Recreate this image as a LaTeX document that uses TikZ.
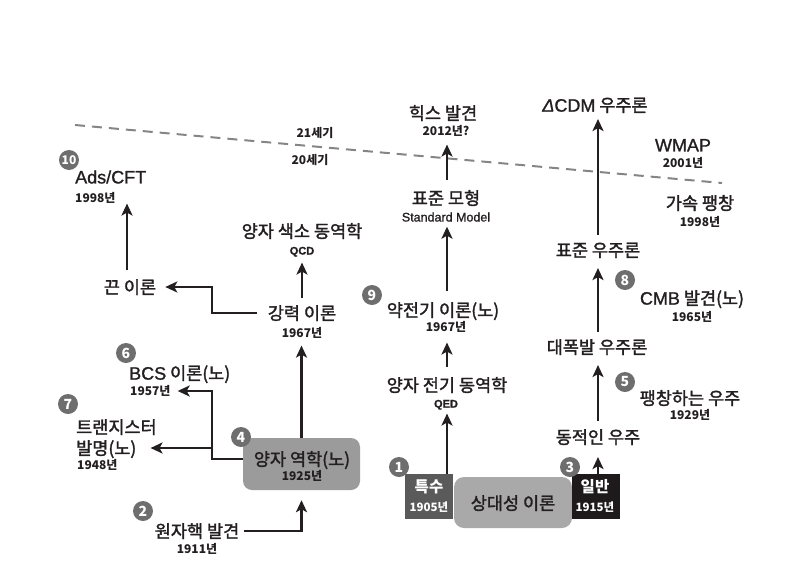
\documentclass[tikz,border=0pt]{standalone}
\usepackage{fontspec}
\setmainfont{Noto Sans CJK KR}
\newfontfamily\krmed{Noto Sans CJK KR}[FakeBold=1.8]
\newfontfamily\latfont{Liberation Sans}[FakeBold=1.2]
\usetikzlibrary{arrows.meta}
\definecolor{ink}{HTML}{231F20}
\definecolor{numgray}{HTML}{6E6E6E}
\definecolor{qmgray}{HTML}{9B9B9B}
\definecolor{relgray}{HTML}{A9A9A9}
\definecolor{teukgray}{HTML}{5A5A5A}
\definecolor{ilblack}{HTML}{1E1A1B}
\definecolor{dashgray}{HTML}{858585}
\newcommand\latw[1]{{\latfont\fontsize{18}{19}\selectfont #1}}
\begin{document}
\begin{tikzpicture}[x=1pt,y=-1pt,
  lbl/.style={font=\krmed\fontsize{17.5}{19}\selectfont, inner sep=0pt, text height=14.5pt, text depth=1.2pt, text=ink},
  latlbl/.style={font=\latfont\fontsize{18}{19}\selectfont, inner sep=0pt, text height=12.9pt, text depth=0pt, text=ink},
  yr/.style={font=\bfseries\fontsize{12}{13}\selectfont, inner sep=0pt, text height=9.9pt, text depth=0.8pt, text=ink},
  sub/.style={font=\latfont\fontsize{12.5}{14}\selectfont, inner sep=0pt, text height=9pt, text depth=0pt, text=ink},
  num/.style={circle, fill=numgray, text=white, font=\bfseries\fontsize{14}{14}\selectfont, minimum size=20pt, inner sep=0pt},
  arr/.style={line width=2.9pt, draw=ink, -{Stealth[length=12pt,width=11pt,inset=3pt]}},
  flatbox/.style={inner sep=0pt, minimum width=48pt, minimum height=45pt},
  wlbl/.style={font=\bfseries\fontsize{15.5}{17}\selectfont, text=white, inner sep=0pt},
  wyr/.style={font=\bfseries\fontsize{11.5}{13}\selectfont, text=white, inner sep=0pt},
]
\useasboundingbox (0,0) rectangle (804,579);

% century divider
\coordinate (d1) at (75,125);
\coordinate (d2) at (722,183);
\draw[dashgray, line width=2pt, dash pattern=on 10pt off 7pt] (d1) -- (d2);
\node[yr] (c21) at (315,133) {21세기};
\node[yr] (c20) at (310,160) {20세기};

% column helpers
\coordinate (colA) at (447,0);
\coordinate (colB) at (598,0);

% ---------- left part ----------
\node[latlbl, anchor=west] (ads) at (75,177) {Ads/CFT};
\node[yr, anchor=west] (adsy) at (75,198) {1998년};
\node[lbl] (kkeun) at (130,287) {끈 이론};

\node[lbl] (qcdk) at (302,231) {양자 색소 동역학};
\node[yr, font=\latfont\bfseries\fontsize{11}{13}\selectfont] (qcd) at (302,250) {QCD};
\node[lbl] (gang) at (302,313) {강력 이론};
\node[yr] (gangy) at (302,333) {1967년};

\node[lbl, anchor=west] (bcs) at (129,373) {\latw{BCS} 이론(노)};
\node[yr, anchor=west] (bcsy) at (130,391) {1957년};

\node[lbl, anchor=west] (tr1) at (76,427) {트랜지스터};
\node[lbl, anchor=west] (tr2) at (76,448) {발명(노)};
\node[yr, anchor=west] (tr3) at (77,465) {1948년};

\node[fill=qmgray, rounded corners=9pt, minimum width=117pt, minimum height=52pt, inner sep=0pt] (qm) at (301.5,464) {};
\node[lbl] (qmt) at (302,459) {양자 역학(노)};
\node[yr] (qmy) at (302,476) {1925년};

\node[lbl] (won) at (197,531) {원자핵 발견};
\node[yr] (wony) at (197,549) {1911년};

% ---------- centre part ----------
\node[fill=relgray, rounded corners=10pt, minimum width=118pt, minimum height=51pt, inner sep=0pt] (rel) at (513,502.5) {};
\node[lbl] (relt) at (513,503) {상대성 이론};
\node[flatbox, fill=teukgray] (teuk) at (429,496.5) {};
\node[wlbl] (teukt) at (429,487) {특수};
\node[wyr] (teuky) at (429,507) {1905년};
\node[flatbox, fill=ilblack] (il) at (596,496.5) {};
\node[wlbl] (ilt) at (595,487) {일반};
\node[wyr] (ily) at (595,507) {1915년};

\node[lbl] (qedk) at (447,385) {양자 전기 동역학};
\node[yr, font=\latfont\bfseries\fontsize{11}{13}\selectfont] (qed) at (446,403) {QED};
\node[lbl] (yak) at (443,310) {약전기 이론(노)};
\node[yr] (yaky) at (446,327) {1967년};
\node[lbl] (pyo) at (446,198) {표준 모형};
\node[sub] (sm) at (446,217) {Standard Model};
\node[lbl] (higgs) at (443,113) {힉스 발견};
\node[yr] (higgsy) at (446,131) {2012년?};

% ---------- right part ----------
\node[lbl] (lcdm) at (595,105) {\latw{{\itshape Δ}CDM} 우주론};
\node[latlbl] (wmap) at (683,145) {WMAP};
\node[yr] (wmapy) at (683,163) {2001년};
\node[lbl] (gasok) at (700,203) {가속 팽창};
\node[yr] (gasoky) at (700,222) {1998년};
\node[lbl] (pyou) at (598,250) {표준 우주론};
\node[lbl] (cmb) at (692,298) {\latw{CMB} 발견(노)};
\node[yr] (cmby) at (692,317) {1965년};
\node[lbl] (daep) at (597,347) {대폭발 우주론};
\node[lbl] (pang) at (690,398) {팽창하는 우주};
\node[yr] (pangy) at (690,415) {1929년};
\node[lbl] (dong) at (598,437) {동적인 우주};

% ---------- numbers ----------
\node[num] (n1) at (399,467) {1};
\node[num] (n2) at (143,511) {2};
\node[num] (n3) at (570,467) {3};
\node[num] (n4) at (241,437) {4};
\node[num] (n5) at (625,382) {5};
\node[num] (n6) at (126,353) {6};
\node[num] (n7) at (68,404) {7};
\node[num] (n8) at (625,280) {8};
\node[num] (n9) at (372,295) {9};
\node[num, font=\bfseries\fontsize{12}{12}\selectfont] (n10) at (69,160) {10};

% ---------- connectors ----------
\coordinate (jk) at (212,300);
\coordinate (jb) at (212,391);
\coordinate (jt) at (212,448);

\draw[arr, shorten <=9pt] ([xshift=-3pt]kkeun.north) -- ([xshift=-3pt]kkeun.north |- adsy.south);
\draw[arr, shorten <=11pt, shorten >=9pt] (gang.west) -- (gang.west -| jk) |- (kkeun.east);
\draw[arr, shorten <=7pt, shorten >=7pt] (gang.north) -- (qcd.south);
\draw[arr, shorten >=7pt] (qm.north) -- (qm.north |- gangy.south);
\draw[arr, shorten >=7pt] (qm.west |- qmt) -| (jb) -- (bcsy.east);
\draw[arr, shorten >=14pt] (jt) -- (tr2.east);
\draw[arr, shorten <=5pt, shorten >=10pt] (won.east) -| (qm.south);

\draw[arr, shorten >=5pt] (colA |- teuk.north) -- (colA |- qed.south);
\draw[arr, shorten <=10pt, shorten >=10pt] (colA |- qedk.north) -- (colA |- yaky.south);
\draw[arr, shorten <=11pt, shorten >=5pt] (colA |- yak.north) -- (colA |- sm.south);
\draw[arr, shorten <=10pt, shorten >=8pt] (colA |- pyo.north) -- (colA |- higgsy.south);

\draw[arr, shorten >=12pt] (colB |- il.north) -- (colB |- dong.south);
\draw[arr, shorten <=8pt, shorten >=10pt] (colB |- dong.north) -- (colB |- daep.south);
\draw[arr, shorten <=7pt, shorten >=10pt] (colB |- daep.north) -- (colB |- pyou.south);
\draw[arr, shorten <=7pt, shorten >=6pt] (colB |- pyou.north) -- (colB |- lcdm.south);
\end{tikzpicture}
\end{document}
